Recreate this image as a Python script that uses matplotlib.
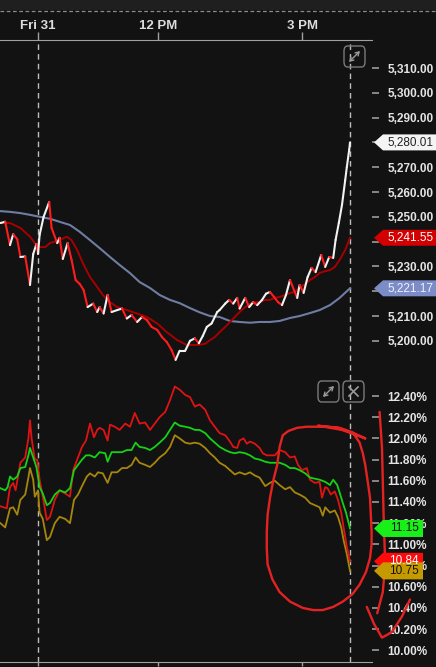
import matplotlib
matplotlib.use("Agg")
import matplotlib.pyplot as plt
import numpy as np
from matplotlib.collections import LineCollection
from matplotlib.patches import Polygon, Rectangle, FancyBboxPatch, FancyArrowPatch
from matplotlib.lines import Line2D

# minutes from the 9:30 open on Fri 31
price_t = [-47, -41, -35, -31, -26, -22, -16, -10, -6, -2, 0, 2, 7, 14, 17, 24, 27, 31, 37, 42,
           47, 52, 57, 62, 69, 74, 77, 82, 87, 92, 99, 105, 111, 117, 124, 130, 136, 142, 149, 155,
           161, 167, 172, 177, 184, 190, 196, 201, 206, 211, 217, 224, 227, 234, 239, 244, 249, 252,
           259, 264, 269, 274, 280, 285, 290, 295, 300, 305, 310, 315, 320, 324, 327, 332, 337, 342,
           347, 354, 359, 364, 369, 372, 376, 380, 384, 386, 389, 390]
price = [5247.5, 5248, 5238.6, 5243, 5241, 5233.8, 5234, 5222.5, 5235, 5239, 5235, 5242.7, 5250,
         5256, 5245.5, 5239.4, 5241.5, 5233, 5239.4, 5232.6, 5224.5, 5223, 5220.5, 5213.6, 5215,
         5211.6, 5213.6, 5211, 5218.5, 5211.6, 5212.4, 5213, 5209, 5210.4, 5207.6, 5209.6, 5208.4,
         5205.6, 5204.4, 5201.5, 5199.5, 5196.3, 5192.3, 5196, 5196, 5200, 5201, 5199, 5202, 5205.6,
         5207, 5211.6, 5212.4, 5215, 5216.5, 5215, 5217.3, 5213, 5217.3, 5213.6, 5215.6, 5214.4,
         5216.5, 5219, 5219.7, 5217.7, 5215.6, 5214.4, 5218.5, 5224.5, 5220.5, 5217.3, 5222.5,
         5219.3, 5225.7, 5229.4, 5227.7, 5234.6, 5229.8, 5233.8, 5233.4, 5240.7, 5247.5, 5254.8,
         5264.8, 5270, 5277, 5280.01]

ma_fast_t = [-47, -35, -22, -10, -2, 2, 9, 15, 21, 27, 36, 42, 49, 56, 65, 74, 81, 90, 99, 111,
             124, 136, 149, 161, 174, 186, 199, 209, 215, 221, 227, 234, 240, 246, 252, 259, 265,
             271, 277, 284, 290, 296, 302, 309, 315, 321, 327, 334, 340, 346, 352, 359, 365, 371,
             377, 384, 390]
ma_fast = [5247.5, 5247.5, 5245.5, 5242, 5238.6, 5237.8, 5237.8, 5239.4, 5240, 5240.6, 5242,
           5240.6, 5236.6, 5231.4, 5225.7, 5221.7, 5218.5, 5215.6, 5213.6, 5212.4, 5211, 5209.6,
           5207, 5203.5, 5200.3, 5198.3, 5198.3, 5198.8, 5200.3, 5201.5, 5203.5, 5205.6, 5207.6,
           5209.6, 5211.6, 5213.6, 5214.8, 5215.6, 5215.6, 5216.5, 5216.5, 5217.3, 5217.7, 5218.5,
           5219.3, 5219.7, 5221.3, 5222.9, 5224.5, 5225.7, 5227.3, 5228.1, 5228.5, 5229.8, 5232.6,
           5236.6, 5241.55]

ma_slow_t = [-47, -35, -22, -10, 2, 15, 27, 40, 52, 65, 77, 90, 102, 115, 127, 140, 152, 165, 177,
             190, 202, 215, 227, 240, 252, 265, 277, 290, 302, 315, 327, 340, 352, 365, 377, 390]
ma_slow = [5252.3, 5252, 5251.5, 5250.8, 5250, 5249.2, 5248, 5246.7, 5244, 5240.6, 5237.4, 5233.8,
           5230.6, 5227.3, 5223.7, 5221.3, 5218.5, 5216.5, 5215.2, 5213.2, 5211.5, 5210, 5209.6,
           5208, 5207.6, 5207.3, 5207.6, 5207.6, 5208, 5209.2, 5210, 5211.2, 5212.4, 5214.4,
           5217.3, 5221.17]

red_t = [-47, -39, -35, -31, -28, -22, -16, -12, -10, -8, -4, -1, 2, 6, 11, 15, 21, 27, 34, 40,
         44, 49, 55, 60, 65, 70, 74, 77, 82, 87, 90, 96, 102, 109, 115, 121, 127, 134, 140, 146,
         152, 159, 165, 171, 177, 184, 190, 196, 202, 209, 215, 221, 227, 234, 240, 244, 249, 252,
         257, 261, 265, 271, 277, 281, 286, 290, 296, 302, 309, 315, 321, 325, 330, 336, 340, 346,
         352, 355, 359, 362, 366, 371, 375, 379, 382, 386, 390]
red_vals = [11.36, 11.34, 11.54, 11.58, 11.51, 11.77, 11.82, 12.00, 12.17, 12.00, 11.80, 11.80,
            11.61, 11.45, 11.23, 11.26, 11.42, 11.51, 11.48, 11.45, 11.70, 11.80, 11.92, 11.98,
            12.14, 12.01, 12.08, 12.10, 12.08, 11.98, 12.13, 12.11, 12.08, 12.14, 12.11, 12.24,
            12.14, 12.15, 12.08, 12.14, 12.20, 12.25, 12.36, 12.49, 12.46, 12.41, 12.39, 12.30,
            12.32, 12.27, 12.17, 12.11, 12.05, 12.03, 11.97, 11.92, 11.91, 11.98, 12.00, 11.95,
            11.97, 11.95, 11.91, 11.86, 11.84, 11.84, 11.84, 11.89, 11.87, 11.82, 11.83, 11.75,
            11.70, 11.72, 11.61, 11.58, 11.59, 11.44, 11.54, 11.53, 11.47, 11.50, 11.42, 11.30,
            11.16, 10.98, 10.84]

green_t = [-47, -41, -38, -35, -31, -26, -22, -16, -12, -10, -6, -2, 2, 6, 11, 15, 21, 27, 34, 40,
           45, 50, 55, 60, 65, 71, 77, 84, 87, 92, 99, 105, 111, 117, 122, 127, 134, 140, 146, 152,
           159, 165, 171, 177, 184, 190, 196, 202, 209, 215, 221, 227, 234, 240, 246, 252, 259, 265,
           271, 277, 284, 290, 302, 309, 315, 321, 327, 334, 340, 346, 352, 359, 365, 369, 374, 377,
           381, 385, 390]
green_vals = [11.53, 11.51, 11.54, 11.64, 11.61, 11.64, 11.72, 11.73, 11.84, 11.91, 11.82, 11.73,
              11.54, 11.48, 11.37, 11.39, 11.47, 11.51, 11.49, 11.53, 11.70, 11.75, 11.80, 11.84,
              11.84, 11.82, 11.87, 11.86, 11.78, 11.87, 11.87, 11.87, 11.89, 11.89, 11.96, 11.92,
              11.91, 11.89, 11.92, 11.96, 12.01, 12.08, 12.15, 12.12, 12.11, 12.10, 12.08, 12.08,
              12.05, 12.00, 11.96, 11.92, 11.89, 11.87, 11.86, 11.87, 11.86, 11.84, 11.81, 11.80,
              11.78, 11.77, 11.77, 11.75, 11.72, 11.72, 11.70, 11.67, 11.63, 11.62, 11.61, 11.59,
              11.56, 11.61, 11.56, 11.49, 11.39, 11.30, 11.15]

gold_t = [-47, -41, -35, -31, -26, -22, -16, -12, -10, -6, -4, 0, 2, 6, 11, 15, 21, 27, 34, 40,
          45, 50, 55, 61, 65, 71, 75, 81, 87, 92, 99, 105, 111, 117, 122, 127, 134, 140, 146, 152,
          159, 165, 171, 177, 184, 190, 196, 202, 209, 215, 221, 227, 234, 240, 246, 252, 259, 265,
          271, 277, 284, 290, 296, 302, 309, 315, 321, 327, 334, 340, 346, 352, 356, 359, 365, 371,
          375, 379, 382, 386, 390]
gold_vals = [11.20, 11.16, 11.34, 11.35, 11.28, 11.42, 11.47, 11.63, 11.72, 11.61, 11.45, 11.51,
             11.30, 11.24, 11.04, 11.07, 11.20, 11.26, 11.24, 11.20, 11.42, 11.47, 11.55, 11.64,
             11.67, 11.64, 11.68, 11.67, 11.58, 11.68, 11.68, 11.72, 11.72, 11.75, 11.82, 11.77,
             11.75, 11.73, 11.77, 11.82, 11.86, 11.92, 12.03, 12.00, 11.96, 11.95, 11.96, 11.95,
             11.91, 11.86, 11.82, 11.77, 11.74, 11.70, 11.66, 11.68, 11.66, 11.68, 11.65, 11.63,
             11.55, 11.58, 11.60, 11.56, 11.52, 11.54, 11.49, 11.47, 11.44, 11.39, 11.37, 11.35,
             11.27, 11.35, 11.30, 11.32, 11.26, 11.16, 11.04, 10.91, 10.75]

time_ticks = [0, 150, 330]
time_labels = ["Fri 31", "12 PM", "3 PM"]
session_marks = [0, 390]
price_ticks = list(range(5200, 5311, 10))
hidden_price_labels = [5280, 5240, 5220]   # covered by the last-value tags
pct_ticks = [10.0 + 0.2 * i for i in range(13)]

# hand-drawn red markup, in (minutes, percent)
loop_t = [409, 392, 377, 362, 349, 336, 324, 313, 306, 302, 299, 294, 290, 287, 286, 286, 287,
          293, 302, 315, 331, 344, 356, 369, 381, 393, 402, 410, 415, 417, 417, 415, 412, 409,
          406, 402, 394, 374, 350, 380, 409]
loop_v = [12.00, 12.06, 12.10, 12.11, 12.11, 12.11, 12.10, 12.07, 12.03, 11.92, 11.75, 11.60,
          11.44, 11.28, 11.12, 10.96, 10.81, 10.67, 10.55, 10.46, 10.40, 10.38, 10.38, 10.41,
          10.46, 10.53, 10.62, 10.74, 10.87, 11.00, 11.12, 11.44, 11.60, 11.75, 11.86, 11.96,
          12.05, 12.10, 12.12, 12.08, 12.00]
stroke_t = [427, 430, 432, 434, 431, 424]
stroke_v = [12.25, 11.91, 11.28, 10.81, 10.55, 10.35]
check_t = [411, 420, 430, 442, 455, 465]
check_v = [10.41, 10.25, 10.12, 10.17, 10.32, 10.48]

BG = "#121212"
W, H = 436, 667
fig = plt.figure(figsize=(W / 100, H / 100), dpi=100, facecolor=BG)
plt.rcParams['font.family'] = ['Liberation Sans', 'DejaVu Sans']


def fx(px):
    return px / W


def fy(py):
    return 1 - py / H


ax1 = fig.add_axes([0, fy(380), fx(372), (380 - 40) / H])
ax2 = fig.add_axes([0, fy(662), fx(372), (662 - 380) / H])
for ax in (ax1, ax2):
    ax.set_facecolor("none")
    ax.set_xlim(-47.5, 417.5)
    for s in ax.spines.values():
        s.set_visible(False)
    for m in session_marks:
        ax.axvline(m, color="#bdbdbd", lw=1, ls=(0, (4, 3)))

ax1.set_ylim(5184.2, 5321.3)
ax2.set_ylim(9.89, 12.551)

# time axis on top and bottom
ax1.spines["top"].set_visible(True)
ax1.spines["top"].set_color("#a0a0a0")
ax1.xaxis.tick_top()
ax1.set_xticks(time_ticks)
ax1.set_xticklabels(time_labels)
ax1.tick_params(axis="x", colors="#a0a0a0", length=6, width=1, pad=0,
                labelcolor="#dcdcdc", labelsize=9.5)
for lab in ax1.get_xticklabels():
    lab.set_fontweight("bold")
ax2.spines["bottom"].set_visible(True)
ax2.spines["bottom"].set_color("#a0a0a0")
ax2.set_xticks(time_ticks)
ax2.set_xticklabels([])
ax2.tick_params(axis="x", colors="#a0a0a0", length=3, width=1)

# value axes on the right
ax1.yaxis.tick_right()
ax1.set_yticks(price_ticks)
ax1.set_yticklabels(["" if v in hidden_price_labels else f"{v:,.2f}" for v in price_ticks])
ax2.yaxis.tick_right()
ax2.set_yticks(pct_ticks)
ax2.set_yticklabels([f"{v:.2f}%" for v in pct_ticks])
for ax in (ax1, ax2):
    ax.tick_params(axis="y", colors="#9a9a9a", length=5, width=1.2, pad=6,
                   labelcolor="#e4e4e4", labelsize=8.5)
    for lab in ax.get_yticklabels():
        lab.set_fontweight("bold")

# moving averages
ax1.plot(ma_slow_t, ma_slow, color="#6f7da3", lw=1.5)
ax1.plot(ma_fast_t, ma_fast, color="#a80000", lw=1.4)

# price: white on up moves, red on down moves
pts = np.column_stack([price_t, price])
segs = np.stack([pts[:-1], pts[1:]], axis=1)
cols = ["#f2f2f2" if b >= a else "#ff1c1c" for a, b in zip(price[:-1], price[1:])]
ax1.add_collection(LineCollection(segs, colors=cols, linewidths=1.5, capstyle="round"))

# volatility lines
ax2.plot(gold_t, gold_vals, color="#a8860c", lw=1.3)
ax2.plot(red_t, red_vals, color="#e01212", lw=1.3)
ax2.plot(green_t, green_vals, color="#14d214", lw=1.3)

# red markup
mk = dict(color="#e52222", lw=1.7, clip_on=False, solid_capstyle="round", solid_joinstyle="round")
ax2.plot(loop_t, loop_v, **mk)
ax2.plot(stroke_t, stroke_v, **mk)
ax2.plot(check_t, check_v, **mk)


def tag(ax, v, text, fc, tc, x1, h):
    ydisp = ax.transData.transform((0, v))[1]
    yc = H - ydisp
    poly = [(fx(374), fy(yc)), (fx(383), fy(yc - h / 2)), (fx(x1), fy(yc - h / 2)),
            (fx(x1), fy(yc + h / 2)), (fx(383), fy(yc + h / 2))]
    fig.patches.append(Polygon(poly, closed=True, facecolor=fc, edgecolor="none",
                               transform=fig.transFigure, figure=fig, zorder=5))
    fig.text(fx((383 + x1) / 2 + 1), fy(yc), text, color=tc, fontsize=8.5,
             ha="center", va="center", zorder=6)


tag(ax1, price[-1], f"{price[-1]:,.2f}", "#f4f4f4", "#222222", 436, 16)
tag(ax1, ma_fast[-1], f"{ma_fast[-1]:,.2f}", "#d20000", "#ffffff", 436, 16)
tag(ax1, ma_slow[-1], f"{ma_slow[-1]:,.2f}", "#7c8cc6", "#eef0ff", 436, 16)
tag(ax2, green_vals[-1], f"{green_vals[-1]:.2f}", "#19f019", "#111111", 423, 17)
tag(ax2, red_vals[-1], f"{red_vals[-1]:.2f}", "#ff0a0a", "#ffffff", 423, 17)
tag(ax2, gold_vals[-1], f"{gold_vals[-1]:.2f}", "#c49a00", "#111111", 423, 17)

# header strip
fig.patches.append(Rectangle((0, fy(10)), 1, 10 / H, facecolor="#1f1f1f", edgecolor="none",
                             transform=fig.transFigure, figure=fig))
fig.lines.append(Line2D([0, 1], [fy(11), fy(11)], color="#8a8a8a", lw=0.9, ls=(0, (3, 2)),
                        transform=fig.transFigure, figure=fig))


# panel buttons
def button(x0, y0, kind):
    fig.patches.append(FancyBboxPatch((fx(x0), fy(y0 + 21)), fx(21), 21 / H,
                                      boxstyle="round,pad=0,rounding_size=0.008",
                                      facecolor="none", edgecolor="#7a7a7a", lw=1,
                                      transform=fig.transFigure, figure=fig, zorder=7))
    if kind == "x":
        for a, b in (((x0 + 6, y0 + 6), (x0 + 15, y0 + 15)), ((x0 + 6, y0 + 15), (x0 + 15, y0 + 6))):
            fig.lines.append(Line2D([fx(a[0]), fx(b[0])], [fy(a[1]), fy(b[1])], color="#9a9a9a",
                                    lw=1.2, transform=fig.transFigure, figure=fig, zorder=8))
    else:
        fig.patches.append(FancyArrowPatch((fx(x0 + 5), fy(y0 + 16)), (fx(x0 + 16), fy(y0 + 5)),
                                           arrowstyle="<->,head_length=2.5,head_width=1.5",
                                           color="#9a9a9a", lw=1, shrinkA=0, shrinkB=0,
                                           transform=fig.transFigure, figure=fig, zorder=8))


button(344, 46, "expand")
button(318, 381, "expand")
button(343, 381, "x")

fig.savefig("out.png", dpi=100, facecolor=BG)
